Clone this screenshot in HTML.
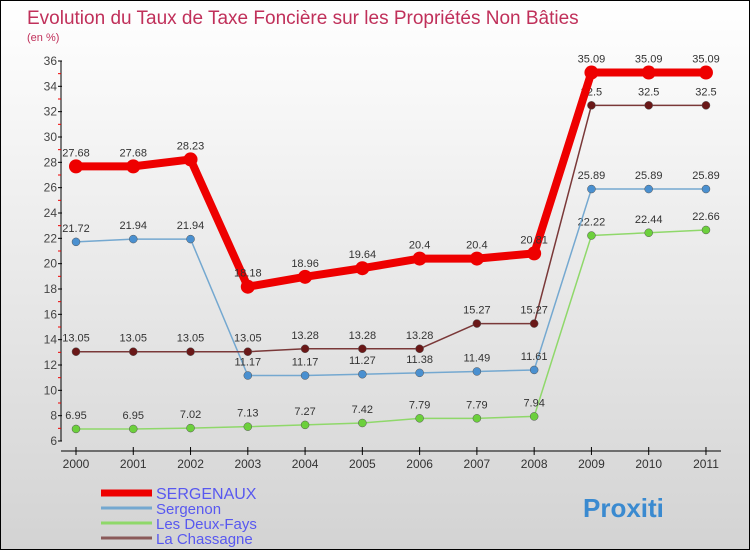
<!DOCTYPE html>
<html><head><meta charset="utf-8"><style>
body{margin:0}
#c{width:748px;height:548px;border:1px solid #000;background:linear-gradient(#fff,#d3d3d3);position:relative;font-family:"Liberation Sans",sans-serif}
</style></head><body>
<div id="c">
<svg id="s" width="748" height="548" xmlns="http://www.w3.org/2000/svg">
<text x="26" y="23" font-size="19" fill="#c0305a">Evolution du Taux de Taxe Foncière sur les Propriétés Non Bâties</text>
<text x="26" y="40" font-size="11" fill="#c0305a">(en %)</text>
<g id="g"></g>
</svg>
</div>
<script>
const years=[2000,2001,2002,2003,2004,2005,2006,2007,2008,2009,2010,2011];
const sergenaux=[27.68,27.68,28.23,18.18,18.96,19.64,20.4,20.4,20.81,35.09,35.09,35.09];
const sergenon=[21.72,21.94,21.94,11.17,11.17,11.27,11.38,11.49,11.61,25.89,25.89,25.89];
const deuxFays=[6.95,6.95,7.02,7.13,7.27,7.42,7.79,7.79,7.94,22.22,22.44,22.66];
const chassagne=[13.05,13.05,13.05,13.05,13.28,13.28,13.28,15.27,15.27,32.5,32.5,32.5];
const yTicks=[6,8,10,12,14,16,18,20,22,24,26,28,30,32,34,36];
const names=["SERGENAUX","Sergenon","Les Deux-Fays","La Chassagne"];
const NS="http://www.w3.org/2000/svg",g=document.getElementById('g');
const X=i=>75+i*57.27, Y=v=>440-(v-6)*12.667;
function mk(t,a,p){const e=document.createElementNS(NS,t);for(const k in a)e.setAttribute(k,a[k]);(p||g).appendChild(e);return e;}
let e;
e=mk('line',{x1:60,y1:60,x2:60,y2:440,stroke:'#000'});


e=mk('line',{x1:60,y1:450,x2:720,y2:450,stroke:'#000'});


yTicks.forEach(v=>{
 mk('line',{x1:57,y1:Y(v),x2:61,y2:Y(v),stroke:'#000'});
 if(v<36)mk('line',{x1:57,y1:Y(v+1),x2:60,y2:Y(v+1),stroke:'#e00'});
 e=mk('text',{x:56,y:Y(v)+4,'font-size':12,fill:'#444','text-anchor':'end'});e.textContent=v;
 
 
});
years.forEach((y,i)=>{
 mk('line',{x1:X(i),y1:446,x2:X(i),y2:454,stroke:'#000'});
 e=mk('text',{x:X(i),y:467,'font-size':12,fill:'#333','text-anchor':'middle'});e.textContent=y;
 
 
});
const series=[[deuxFays,'#8fd86a','#6cd03c',1.5,4],[sergenon,'#74a8d0','#4a90d0',1.5,4],[chassagne,'#7a3838','#6a1818',1.5,4],[sergenaux,'#ee0000','#ee0000',8,7]];
const sn=['les-deux-fays','sergenon','la-chassagne','sergenaux'];
series.forEach(([d,lc,pc,w,r],si)=>{
 e=mk('polyline',{points:d.map((v,i)=>X(i)+','+Y(v)).join(' '),fill:'none',stroke:lc,'stroke-width':w,'stroke-linejoin':'round'});
 
 
 d.forEach((v,i)=>{
  e=mk('circle',{cx:X(i),cy:Y(v),r:r,fill:pc,stroke:si==3?'none':'#555','stroke-width':0.5});
  
  
  e=mk('text',{x:X(i),y:Y(v)-10,'font-size':11,fill:'#333','text-anchor':'middle'});e.textContent=v;
  
  
 });
});
const lc=['#ee0000','#74a8d0','#8fd86a','#8a5a5a'],lw=[7,3,3,3];
names.forEach((n,i)=>{
 const y=492+i*15;
 e=mk('line',{x1:100,y1:y,x2:151,y2:y,stroke:lc[i],'stroke-width':lw[i]});
 
 
 e=mk('text',{x:155,y:y+6,'font-size':i==0?16:15,fill:'#5858f0'});e.textContent=n;
 
 
});
e=mk('text',{x:582,y:516,'font-size':26,'font-weight':'bold',fill:'#3a8ad0'});e.textContent='Proxiti';


</script>
</body></html>
